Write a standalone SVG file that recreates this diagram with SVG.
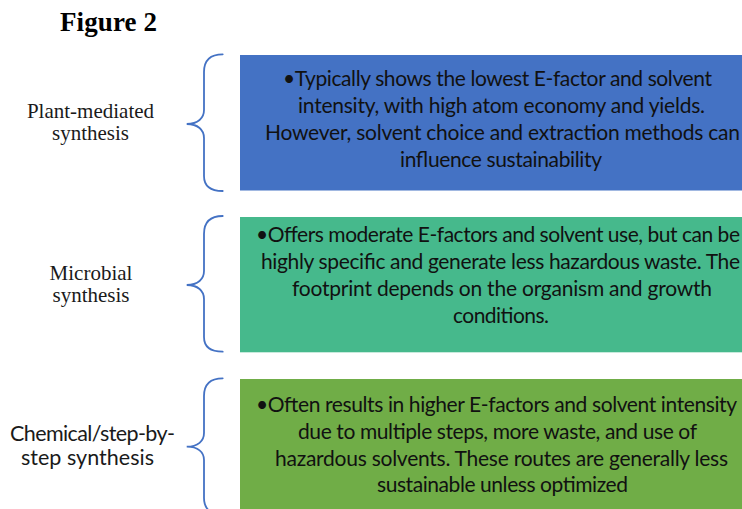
<svg xmlns="http://www.w3.org/2000/svg" width="742" height="509" viewBox="0 0 742 509">
<style>
.title{font-family:"Liberation Serif","Times New Roman",serif;font-weight:bold;font-size:27px;fill:#000}
.lbl{font-family:"Liberation Serif","Times New Roman",serif;font-size:21px;fill:#1a1a1a;text-anchor:middle}
.lbls{font-family:Lato,"Liberation Sans",sans-serif;font-size:21.5px;fill:#1a1a1a}
.bt{font-family:Lato,"Liberation Sans",sans-serif;font-size:21px;fill:#111}
.brace{fill:none;stroke:#4472C4;stroke-width:1.8;stroke-linecap:round}
</style>
<rect width="742" height="509" fill="#fff"/>
<text class="title" x="60" y="31" textLength="97">Figure 2</text>

<g id="label-plant">
<text class="lbl" x="90.5" y="118">Plant-mediated</text>
<text class="lbl" x="90.5" y="140">synthesis</text>
</g>
<g id="label-microbial">
<text class="lbl" x="91" y="280">Microbial</text>
<text class="lbl" x="91" y="302">synthesis</text>
</g>
<g id="label-chemical">
<text class="lbls" x="10" y="441" textLength="165">Chemical/step-by-</text>
<text class="lbls" x="21" y="465" textLength="133">step synthesis</text>
</g>

<g id="connectors">
<path class="brace" d="M222.7,54.3 C210,54.3 204,60 204,72 L204,110 C204,118 198,124 186.7,124 C198,124 204,130 204,138 L204,176 C204,186 210,191 222.7,191"/>
<path class="brace" d="M222.7,216 C210,216 204,222 204,234 L204,271 C204,279 198,285 186.7,285 C198,285 204,291 204,299 L204,337 C204,347 210,351.7 222.7,351.7"/>
<path class="brace" d="M222.7,378.3 C210,378.3 204,384 204,396 L204,433 C204,441 198,446.7 186.7,446.7 C198,446.7 204,452 204,460 L204,498 C204,508 210,515 222.7,515"/>
</g>

<g id="box-plant">
<rect x="240" y="55" width="510" height="135.5" fill="#4472C4"/>
<text class="bt" x="283" y="86" textLength="429">•Typically shows the lowest E-factor and solvent</text>
<text class="bt" x="298" y="113" textLength="407">intensity, with high atom economy and yields.</text>
<text class="bt" x="265" y="140" textLength="475">However, solvent choice and extraction methods can</text>
<text class="bt" x="400" y="167" textLength="202">influence sustainability</text>
</g>

<g id="box-microbial">
<rect x="240" y="217" width="510" height="135.3" fill="#46B98C"/>
<text class="bt" x="256" y="242" textLength="484">•Offers moderate E-factors and solvent use, but can be</text>
<text class="bt" x="261" y="269" textLength="479">highly specific and generate less hazardous waste. The</text>
<text class="bt" x="292" y="296" textLength="420">footprint depends on the organism and growth</text>
<text class="bt" x="453" y="323" textLength="96">conditions.</text>
</g>

<g id="box-chemical">
<rect x="240" y="379" width="510" height="140" fill="#70AD47"/>
<text class="bt" x="256" y="412" textLength="481">•Often results in higher E-factors and solvent intensity</text>
<text class="bt" x="298" y="439" textLength="399">due to multiple steps, more waste, and use of</text>
<text class="bt" x="275" y="466" textLength="453">hazardous solvents. These routes are generally less</text>
<text class="bt" x="377" y="492" textLength="251">sustainable unless optimized</text>
</g>
</svg>
